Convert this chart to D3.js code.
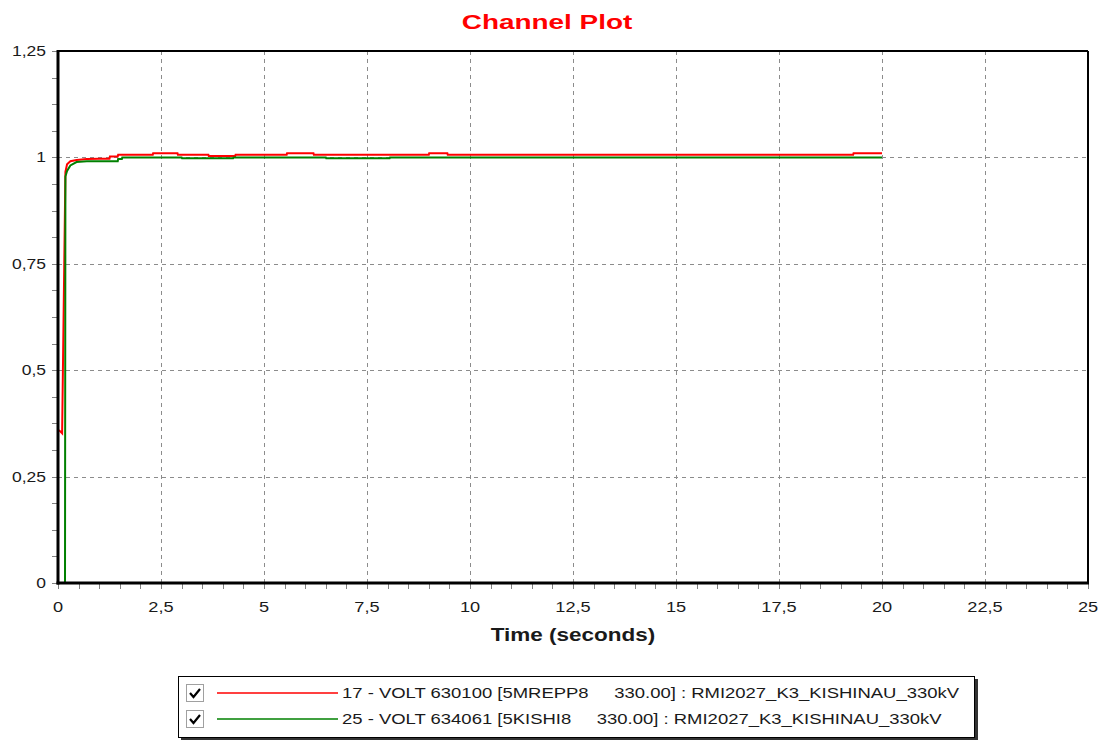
<!DOCTYPE html>
<html>
<head>
<meta charset="utf-8">
<script src="https://cdn.jsdelivr.net/npm/d3@7"></script>
<style>
  html, body { margin: 0; padding: 0; background: #fff; }
  svg { display: block; font-family: "Liberation Sans", Arial, sans-serif; }
</style>
</head>
<body>
<svg id="chart" width="1106" height="744"></svg>
<script>
// Time samples (s) and per-unit voltages for each channel
const redTime  = [0, 0.06, 0.10, 0.18, 0.22, 0.30, 0.45, 0.70, 1.00, 1.25, 1.26, 1.45, 1.46, 2.30, 2.31, 2.90, 2.91, 3.65, 3.66, 4.30, 4.31, 5.55, 5.56, 6.20, 6.21, 9.00, 9.01, 9.45, 9.46, 19.30, 19.31, 20.00];
const redValue = [0.360, 0.356, 0.352, 0.966, 0.984, 0.991, 0.994, 0.996, 0.997, 0.997, 1.002, 1.002, 1.006, 1.006, 1.010, 1.010, 1.006, 1.006, 1.003, 1.003, 1.006, 1.006, 1.010, 1.010, 1.006, 1.006, 1.010, 1.010, 1.006, 1.006, 1.010, 1.010];

const greenTime  = [0, 0.17, 0.18, 0.22, 0.30, 0.45, 0.70, 1.20, 1.45, 1.46, 1.55, 1.56, 3.00, 3.01, 4.25, 4.26, 6.50, 6.51, 8.05, 8.06, 20.00];
const greenValue = [0, 0, 0.955, 0.968, 0.981, 0.989, 0.991, 0.991, 0.991, 0.996, 0.996, 1.000, 1.000, 0.998, 0.998, 1.000, 1.000, 0.998, 0.998, 1.000, 1.000];

const seriesNames = [
  "17 - VOLT 630100 [5MREPP8     330.00] : RMI2027_K3_KISHINAU_330kV",
  "25 - VOLT 634061 [5KISHI8     330.00] : RMI2027_K3_KISHINAU_330kV"
];
const seriesColors = ["#ff0000", "#008000"];

const xTicks = [0, 2.5, 5, 7.5, 10, 12.5, 15, 17.5, 20, 22.5, 25];
const yTicks = [0, 0.25, 0.5, 0.75, 1, 1.25];

const chartTitle = "Channel Plot";
const xTitle = "Time (seconds)";

const fmt = v => String(v).replace(".", ",");

const svg = d3.select("#chart");
const plotLeft = 58, plotRight = 1088, plotTop = 51, plotBottom = 583;

const x = d3.scaleLinear().domain([0, 25]).range([plotLeft, plotRight]);
const y = d3.scaleLinear().domain([0, 1.25]).range([plotBottom, plotTop]);

// Text drawn with a wide horizontal stretch, as the chart's fonts render
function wideText(parent, px, py, str, opts) {
  const t = parent.append("text")
    .attr("transform", `translate(${px},${py}) scale(${opts.sx || 1.3},1)`)
    .attr("text-anchor", opts.anchor || "start")
    .attr("font-size", opts.size || 14)
    .attr("font-weight", opts.weight || "normal")
    .attr("fill", opts.fill || "#1a1a1a")
    .style("white-space", "pre")
    .text(str);
  return t;
}

// Title
wideText(svg, 547, 29, chartTitle, {anchor: "middle", size: 21, weight: "bold", fill: "#ff0000", sx: 1.33});

// Grid lines
const grid = svg.append("g").attr("stroke", "#8c8c8c").attr("stroke-width", 1).attr("stroke-dasharray", "4,4");
xTicks.slice(1, -1).forEach(t => {
  grid.append("line").attr("x1", Math.round(x(t)) + 0.5).attr("x2", Math.round(x(t)) + 0.5)
    .attr("y1", plotTop).attr("y2", plotBottom);
});
yTicks.slice(1, -1).forEach(t => {
  grid.append("line").attr("y1", Math.round(y(t)) + 0.5).attr("y2", Math.round(y(t)) + 0.5)
    .attr("x1", plotLeft).attr("x2", plotRight);
});

// Minor and major ticks
const xMinor = d3.range(0, 25.001, 0.5);
const yMinor = d3.range(0, 1.2501, 0.0625);
const tickG = svg.append("g").attr("stroke", "#808080").attr("stroke-width", 1);
xMinor.forEach(t => {
  tickG.append("line").attr("x1", Math.round(x(t)) + 0.5).attr("x2", Math.round(x(t)) + 0.5)
    .attr("y1", plotBottom).attr("y2", plotBottom + 6);
});
yMinor.forEach(t => {
  tickG.append("line").attr("y1", Math.round(y(t)) + 0.5).attr("y2", Math.round(y(t)) + 0.5)
    .attr("x1", plotLeft - 6).attr("x2", plotLeft);
});

// Tick labels
const xl = svg.append("g");
xTicks.forEach(d => wideText(xl, x(d), 612, fmt(d), {anchor: "middle", size: 14, sx: 1.3}));
const yl = svg.append("g");
yTicks.forEach(d => wideText(yl, 46, y(d) + 5, fmt(d), {anchor: "end", size: 14, sx: 1.25}));

// Axis title
wideText(svg, 573, 641, xTitle, {anchor: "middle", size: 18, weight: "bold", sx: 1.25});

// Data lines
const line = d3.line().x(d => x(d[0])).y(d => y(d[1]));
const redData = redTime.map((t, i) => [t, redValue[i]]);
const greenData = greenTime.map((t, i) => [t, greenValue[i]]);

svg.append("path").datum(redData).attr("d", line)
  .attr("fill", "none").attr("stroke", seriesColors[0]).attr("stroke-width", 2);
svg.append("path").datum(greenData).attr("d", line)
  .attr("fill", "none").attr("stroke", seriesColors[1]).attr("stroke-width", 2);

// Plot frame
svg.append("line").attr("x1", plotLeft).attr("x2", plotRight).attr("y1", plotTop).attr("y2", plotTop)
  .attr("stroke", "#000").attr("stroke-width", 2);
svg.append("line").attr("x1", plotRight).attr("x2", plotRight).attr("y1", plotTop).attr("y2", plotBottom)
  .attr("stroke", "#000").attr("stroke-width", 2);
svg.append("line").attr("x1", plotLeft).attr("x2", plotLeft).attr("y1", plotTop - 1).attr("y2", plotBottom + 1.5)
  .attr("stroke", "#000").attr("stroke-width", 3);
svg.append("line").attr("x1", plotLeft - 1.5).attr("x2", plotRight + 1).attr("y1", plotBottom).attr("y2", plotBottom)
  .attr("stroke", "#000").attr("stroke-width", 3);

// Legend
const lg = svg.append("g");
lg.append("rect").attr("x", 181).attr("y", 679).attr("width", 797).attr("height", 61).attr("fill", "#333");
lg.append("rect").attr("x", 178.5).attr("y", 676.5).attr("width", 796).attr("height", 61)
  .attr("fill", "#fff").attr("stroke", "#000").attr("stroke-width", 1);

seriesNames.forEach((name, i) => {
  const cy = 693 + i * 26;
  const cb = lg.append("g");
  cb.append("rect").attr("x", 186.5).attr("y", cy - 8.5).attr("width", 17).attr("height", 17)
    .attr("fill", "#fff").attr("stroke", "#a0a0a0").attr("stroke-width", 1);
  cb.append("path").attr("d", `M${190},${cy} L${193.5},${cy + 4} L${200},${cy - 4}`)
    .attr("fill", "none").attr("stroke", "#000").attr("stroke-width", 2.2);
  lg.append("line").attr("x1", 217).attr("x2", 338).attr("y1", cy).attr("y2", cy)
    .attr("stroke", seriesColors[i]).attr("stroke-width", 1.5);
  wideText(lg, 342, cy + 5, name, {size: 14, sx: 1.32});
});
</script>
</body>
</html>
